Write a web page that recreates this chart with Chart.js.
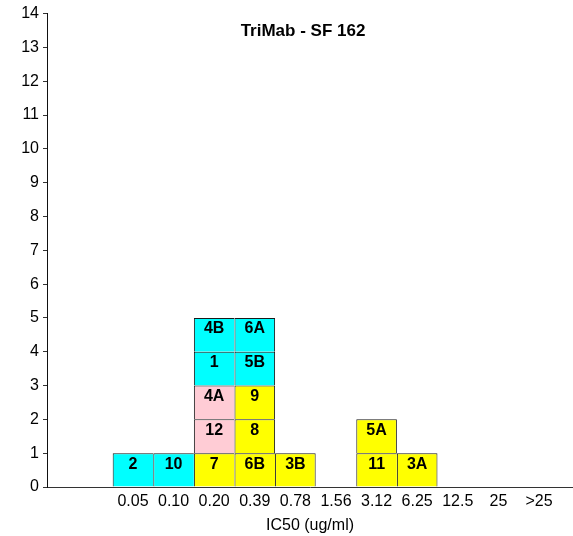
<!DOCTYPE html>
<html>
<head>
<meta charset="utf-8">
<script src="https://cdn.jsdelivr.net/npm/chart.js@4.4.1/dist/chart.umd.min.js"></script>
<style>
  html, body { margin: 0; padding: 0; background: #fff; }
  #wrap { width: 573px; height: 536px; position: relative; }
</style>
</head>
<body>
<div id="wrap"><canvas id="ic50Chart"></canvas></div>
<script>
// categories on the x axis (IC50, ug/ml)
const categories = ['0.05', '0.10', '0.20', '0.39', '0.78', '1.56', '3.12', '6.25', '12.5', '25', '>25'];
const yTicks = [0, 1, 2, 3, 4, 5, 6, 7, 8, 9, 10, 11, 12, 13, 14];

// one array per stack level, bottom to top: cell names and colour codes
const row1Names  = ['2', '10', '7', '6B', '3B', '', '11', '3A', '', '', ''];
const row1Colors = ['C', 'C', 'Y', 'Y', 'Y', '', 'Y', 'Y', '', '', ''];
const row2Names  = ['', '', '12', '8', '', '', '5A', '', '', '', ''];
const row2Colors = ['', '', 'P', 'Y', '', '', 'Y', '', '', '', ''];
const row3Names  = ['', '', '4A', '9', '', '', '', '', '', '', ''];
const row3Colors = ['', '', 'P', 'Y', '', '', '', '', '', '', ''];
const row4Names  = ['', '', '1', '5B', '', '', '', '', '', '', ''];
const row4Colors = ['', '', 'C', 'C', '', '', '', '', '', '', ''];
const row5Names  = ['', '', '4B', '6A', '', '', '', '', '', '', ''];
const row5Colors = ['', '', 'C', 'C', '', '', '', '', '', '', ''];

const palette = { C: '#00FFFF', Y: '#FFFF00', P: '#FFCCD5' };
const rows = [
    [row1Names, row1Colors],
    [row2Names, row2Colors],
    [row3Names, row3Colors],
    [row4Names, row4Colors],
    [row5Names, row5Colors]
];

const FONT = "'Liberation Sans', Arial, sans-serif";

// build one stacked dataset per level
const datasets = rows.map(([names, colors], r) => {
    const points = [];
    names.forEach((n, i) => {
        if (n) points.push({ x: i, y: 1, name: n, color: palette[colors[i]] });
    });
    return {
        label: 'level ' + (r + 1),
        data: points,
        backgroundColor: ctx => ctx.raw ? ctx.raw.color : 'transparent',
        borderColor: '#1a1a1a',
        borderWidth: ctx => {
            const p = ctx.raw;
            if (!p) return 0;
            const hasRight = !!names[p.x + 1];
            return { top: 1, left: 1, right: hasRight ? 0 : 1, bottom: 0 };
        },
        borderSkipped: false,
        barPercentage: 1,
        categoryPercentage: 1,
        inflateAmount: 0
    };
});

// cell labels and chart title drawn inside the plot
const cellLabels = {
    id: 'cellLabels',
    afterDatasetsDraw(chart) {
        const { ctx } = chart;
        ctx.save();
        ctx.fillStyle = '#000';
        ctx.textAlign = 'center';
        ctx.textBaseline = 'top';
        ctx.font = 'bold 16px ' + FONT;
        chart.data.datasets.forEach((ds, d) => {
            const meta = chart.getDatasetMeta(d);
            meta.data.forEach((bar, i) => {
                const p = ds.data[i];
                ctx.fillText(p.name, bar.x, bar.y + 3);
            });
        });
        ctx.font = 'bold 17px ' + FONT;
        ctx.fillText('TriMab - SF 162', 303, 23);
        ctx.restore();
    }
};

new Chart(document.getElementById('ic50Chart'), {
    type: 'bar',
    data: { datasets: datasets },
    options: {
        responsive: true,
        maintainAspectRatio: false,
        animation: false,
        layout: { padding: { top: 12, right: 0, left: 0, bottom: 0 } },
        plugins: {
            legend: { display: false },
            tooltip: { enabled: false }
        },
        scales: {
            x: {
                type: 'linear',
                stacked: true,
                offset: false,
                min: -2.118,
                max: 10.838,
                afterBuildTicks: scale => {
                    scale.ticks = categories.map((c, i) => ({ value: i }));
                },
                afterFit: scale => { scale.height = 49; },
                ticks: {
                    autoSkip: false,
                    maxRotation: 0,
                    padding: 5,
                    color: '#000',
                    font: { size: 16, family: FONT },
                    callback: v => categories[v]
                },
                grid: { display: false, drawTicks: false, offset: false },
                border: { display: true, color: '#333', width: 1 },
                title: {
                    display: true,
                    text: 'IC50 (ug/ml)',
                    color: '#000',
                    padding: { top: 4, bottom: 1 },
                    font: { size: 16, family: FONT }
                }
            },
            y: {
                stacked: true,
                min: 0,
                max: 14,
                afterBuildTicks: scale => {
                    scale.ticks = yTicks.map(v => ({ value: v }));
                },
                afterFit: scale => { scale.width = 47; },
                ticks: {
                    padding: 4,
                    color: '#000',
                    font: { size: 16, family: FONT }
                },
                grid: {
                    drawOnChartArea: false,
                    drawTicks: true,
                    tickLength: 4,
                    color: '#333'
                },
                border: { display: true, color: '#111', width: 1 }
            }
        }
    },
    plugins: [cellLabels]
});
</script>
</body>
</html>
